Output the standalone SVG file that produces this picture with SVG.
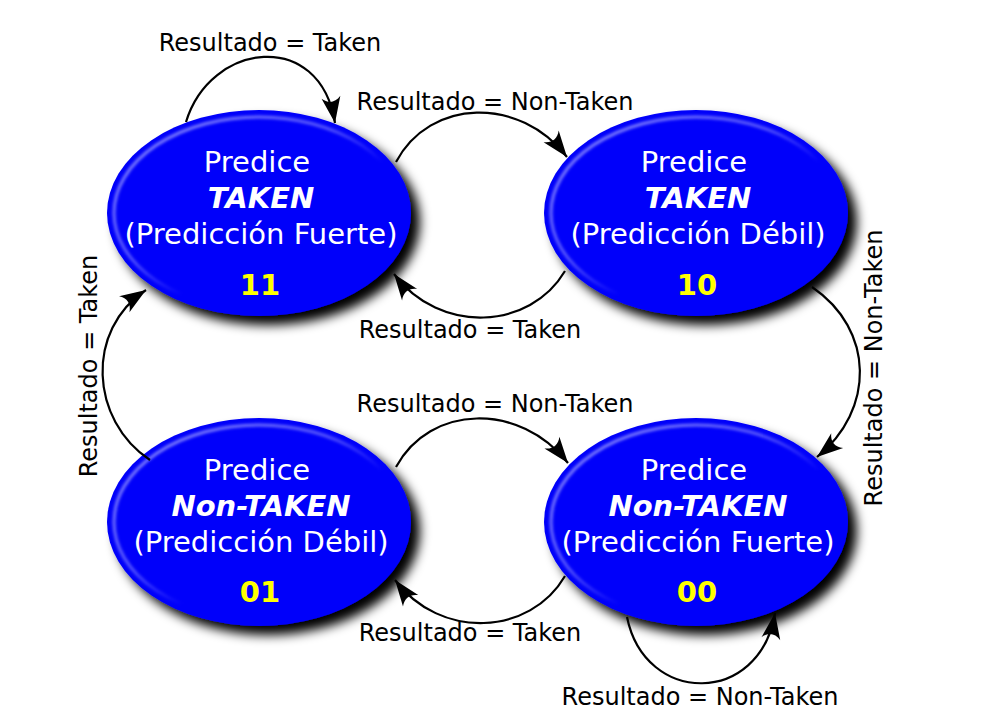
<svg xmlns="http://www.w3.org/2000/svg" width="988" height="723" viewBox="0 0 988 723">
  <defs>
    <filter id="shadow" x="-20%" y="-20%" width="150%" height="150%">
      <feGaussianBlur in="SourceAlpha" stdDeviation="5.5"/>
      <feOffset dx="9" dy="9" result="b"/>
      <feFlood flood-color="#000" flood-opacity="1"/>
      <feComposite in2="b" operator="in" result="s"/>
      <feMerge><feMergeNode in="s"/><feMergeNode in="SourceGraphic"/></feMerge>
    </filter>
    <filter id="soft" x="-10%" y="-10%" width="120%" height="120%">
      <feGaussianBlur stdDeviation="1.4"/>
    </filter>
    <linearGradient id="rim" x1="0" y1="0" x2="1" y2="1">
      <stop offset="0" stop-color="#fff" stop-opacity="0.6"/>
      <stop offset="0.4" stop-color="#fff" stop-opacity="0.35"/>
      <stop offset="0.58" stop-color="#fff" stop-opacity="0"/>
    </linearGradient>
    <marker id="arrow" viewBox="-28 -11 30 22" refX="0" refY="0" markerWidth="30" markerHeight="22" markerUnits="userSpaceOnUse" orient="auto">
      <path d="M0,0 L-26,-9.5 C-20,-3.5 -20,3.5 -26,9.5 Z" fill="#000"/>
    </marker>
  </defs>
  <style>
    .ell { fill: #0000fa; }
    .rim { fill: none; stroke: url(#rim); stroke-width: 3; filter: url(#soft); }
    .t { font-family: "DejaVu Sans", "Liberation Sans", sans-serif; font-size: 29px; fill: #fff; text-anchor: middle; }
    .b { font-weight: bold; font-style: italic; }
    .num { font-family: "DejaVu Sans", "Liberation Sans", sans-serif; font-size: 29px; font-weight: bold; fill: #ffff00; text-anchor: middle; }
    .lbl { font-family: "DejaVu Sans", "Liberation Sans", sans-serif; font-size: 24px; fill: #000; text-anchor: middle; }
    .c { fill: none; stroke: #000; stroke-width: 2.2; marker-end: url(#arrow); }
  </style>
  <rect width="988" height="723" fill="#fff"/>

  <g id="node11">
    <g filter="url(#shadow)"><ellipse class="ell" cx="259" cy="213" rx="152" ry="103"/></g>
    <ellipse class="rim" cx="259" cy="213" rx="145" ry="96"/>
    <text class="t" x="257" y="172">Predice</text>
    <text class="t b" x="261" y="208">TAKEN</text>
    <text class="t" x="261" y="244">(Predicción Fuerte)</text>
    <text class="num" x="260" y="295">11</text>
  </g>
  <g id="node10">
    <g filter="url(#shadow)"><ellipse class="ell" cx="696" cy="213" rx="152" ry="103"/></g>
    <ellipse class="rim" cx="696" cy="213" rx="145" ry="96"/>
    <text class="t" x="694" y="172">Predice</text>
    <text class="t b" x="698" y="208">TAKEN</text>
    <text class="t" x="698" y="244">(Predicción Débil)</text>
    <text class="num" x="697" y="295">10</text>
  </g>
  <g id="node01">
    <g filter="url(#shadow)"><ellipse class="ell" cx="259" cy="522" rx="152" ry="104"/></g>
    <ellipse class="rim" cx="259" cy="522" rx="145" ry="97"/>
    <text class="t" x="257" y="480">Predice</text>
    <text class="t b" x="261" y="516">Non-TAKEN</text>
    <text class="t" x="261" y="552">(Predicción Débil)</text>
    <text class="num" x="260" y="602">01</text>
  </g>
  <g id="node00">
    <g filter="url(#shadow)"><ellipse class="ell" cx="696" cy="522" rx="152" ry="104"/></g>
    <ellipse class="rim" cx="696" cy="522" rx="145" ry="97"/>
    <text class="t" x="694" y="480">Predice</text>
    <text class="t b" x="698" y="516">Non-TAKEN</text>
    <text class="t" x="698" y="552">(Predicción Fuerte)</text>
    <text class="num" x="697" y="602">00</text>
  </g>

  <g id="connectors">
    <path class="c" d="M186,122 C210,42 320,28 335,123"/>
    <path class="c" d="M396,162 C430,98 520,96 567,157"/>
    <path class="c" d="M565,271 C530,330 440,335 394,274"/>
    <path class="c" d="M812,287 C875,330 875,410 817,457"/>
    <path class="c" d="M150,460 C90,420 85,330 146,290"/>
    <path class="c" d="M396,467 C430,404 520,402 568,463"/>
    <path class="c" d="M565,576 C530,636 440,640 395,580"/>
    <path class="c" d="M627,617 C645,706 760,706 775,613"/>
  </g>

  <g id="labels">
    <text class="lbl" x="270" y="51">Resultado = Taken</text>
    <text class="lbl" x="495" y="110">Resultado = Non-Taken</text>
    <text class="lbl" x="470" y="338">Resultado = Taken</text>
    <text class="lbl" transform="translate(882,368) rotate(-90)">Resultado = Non-Taken</text>
    <text class="lbl" transform="translate(97,366) rotate(-90)">Resultado = Taken</text>
    <text class="lbl" x="495" y="412">Resultado = Non-Taken</text>
    <text class="lbl" x="470" y="641">Resultado = Taken</text>
    <text class="lbl" x="700" y="705">Resultado = Non-Taken</text>
  </g>
</svg>
